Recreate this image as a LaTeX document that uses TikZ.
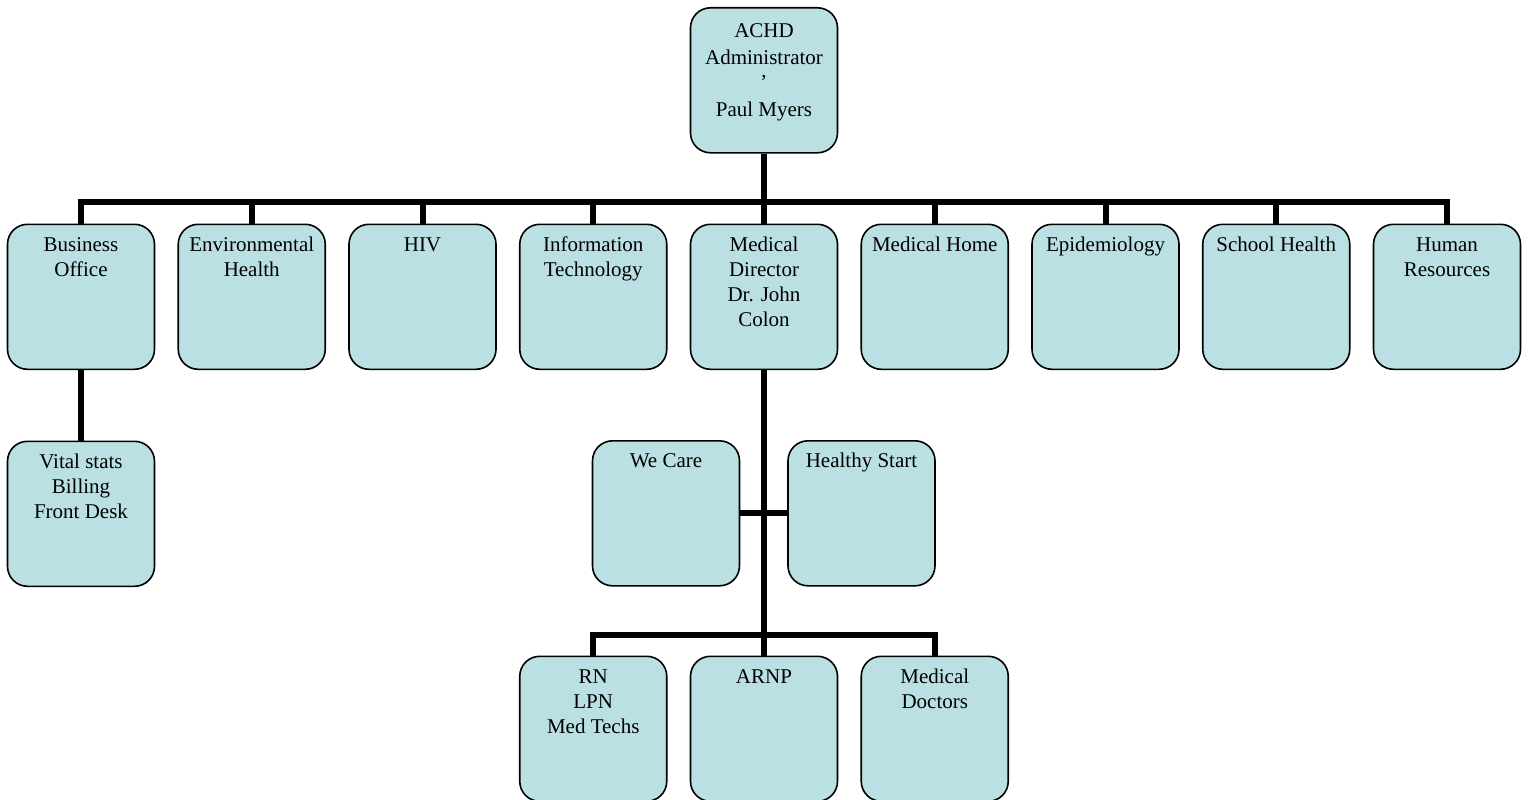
\documentclass[tikz,border=0pt]{standalone}
\usepackage{fontspec}
\setmainfont{Liberation Serif}
\definecolor{boxfill}{RGB}{187,224,227}
\newcommand{\boxtext}[2][27pt]{\parbox[c][145pt][t]{147pt}{\centering\fontsize{21}{25}\selectfont\rule{0pt}{#1}#2}}
\begin{document}
\begin{tikzpicture}[x=1pt,y=-1pt,
  box/.style={draw=black, line width=1.6pt, fill=boxfill, rounded corners=20pt,
    minimum width=147pt, minimum height=145pt, inner sep=0pt, anchor=north},
  conn/.style={draw=black, line width=6pt, line join=miter}]
\useasboundingbox (0,0) rectangle (1532,800);
% top
\node[box] (admin) at (764,7) {\parbox[c][145pt][t]{147pt}{\centering\fontsize{21}{27}\selectfont\rule{0pt}{30pt}ACHD\\Administrator\\[-14pt],\\[12pt]Paul Myers}};
% row 1
\node[box] (bo)  at (81,223.5)     {\boxtext{Business\\Office}};
\node[box] (env) at (251.75,223.5) {\boxtext{Environmental\\Health}};
\node[box] (hiv) at (422.5,223.5)  {\boxtext{HIV}};
\node[box] (it)  at (593.25,223.5) {\boxtext{Information\\Technology}};
\node[box] (md)  at (764,223.5)    {\boxtext{Medical\\Director\\Dr. John\\Colon}};
\node[box] (mh)  at (934.75,223.5) {\boxtext{Medical Home}};
\node[box] (epi) at (1105.5,223.5) {\boxtext{Epidemiology}};
\node[box] (sh)  at (1276.25,223.5){\boxtext{School Health}};
\node[box] (hr)  at (1447,223.5)   {\boxtext{Human\\Resources}};
% row 2
\node[box] (vs) at (81,440.5) {\boxtext{Vital stats\\Billing\\Front Desk}};
\node[box] (wc) at (666,440) {\boxtext{We Care}};
\node[box] (hs) at (861.5,440) {\boxtext{Healthy Start}};
% row 3
\node[box] (rn)   at (593.25,655.5) {\boxtext{RN\\LPN\\Med Techs}};
\node[box] (arnp) at (764,655.5)    {\boxtext{ARNP}};
\node[box] (doc)  at (934.75,655.5) {\boxtext{Medical\\Doctors}};
% connectors
\coordinate (bus) at (0,202);
\coordinate (bus2) at (0,635);
\draw[conn] (admin.south) -- (admin.south |- bus);
\draw[conn] (bo.north) -- (bo.north |- bus) -- (hr.north |- bus) -- (hr.north);
\foreach \n in {env,hiv,it,md,mh,epi,sh} \draw[conn] (\n.north) -- (\n.north |- bus);
\draw[conn] (bo.south) -- (vs.north);
\draw[conn] (md.south) -- (md.south |- bus2);
\draw[conn] (wc.east) -- (hs.west);
\draw[conn] (rn.north) -- (rn.north |- bus2) -- (doc.north |- bus2) -- (doc.north);
\draw[conn] (arnp.north) -- (arnp.north |- bus2);
\end{tikzpicture}
\end{document}
